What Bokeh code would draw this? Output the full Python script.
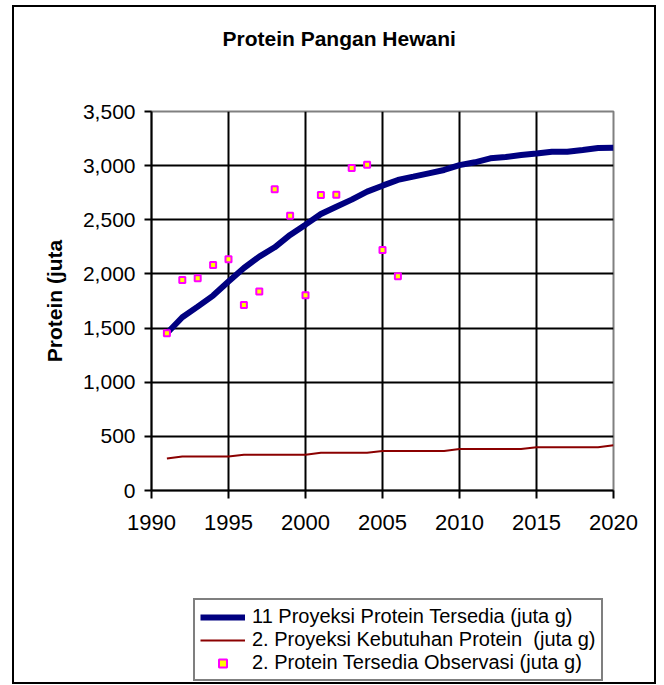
from bokeh.plotting import figure
from bokeh.layouts import column
from bokeh.models import (Range1d, FixedTicker, NumeralTickFormatter, Legend,
                          LegendItem, ColumnDataSource, Title)
from bokeh.embed import file_html
from bokeh.resources import INLINE

# ---- data ----
proj_years = list(range(1991, 2021))
proj_available = [1452, 1600, 1698, 1800, 1930, 2055, 2160, 2246, 2360, 2455,
                  2554, 2621, 2686, 2760, 2815, 2868, 2898, 2929, 2960, 3005,
                  3031, 3068, 3080, 3098, 3113, 3129, 3129, 3145, 3162, 3165]
proj_need = [295, 315, 315, 315, 315, 330, 330, 330, 330, 330,
             348, 348, 348, 348, 365, 365, 365, 365, 365, 383,
             383, 383, 383, 383, 400, 400, 400, 400, 400, 418]
obs_years = list(range(1991, 2007))
obs_available = [1452, 1945, 1960, 2083, 2135, 1714, 1837, 2781, 2538, 1803,
                 2729, 2732, 2978, 3009, 2222, 1978]

x_ticks = [1990, 1995, 2000, 2005, 2010, 2015, 2020]
y_ticks = [0, 500, 1000, 1500, 2000, 2500, 3000, 3500]

title_text = "Protein Pangan Hewani"
y_label = "Protein (juta"
names = ["11 Proyeksi Protein Tersedia (juta g)",
         "2. Proyeksi Kebutuhan Protein  (juta g)",
         "2. Protein Tersedia Observasi (juta g)"]

FONT = "Liberation Sans"

src_proj = ColumnDataSource(dict(x=proj_years, avail=proj_available, need=proj_need))
src_obs = ColumnDataSource(dict(x=obs_years, y=obs_available))

# ---------------- main chart ----------------
p = figure(width=644, height=538, output_backend="svg", toolbar_location=None,
           x_range=Range1d(1990, 2020), y_range=Range1d(0, 3500),
           min_border_left=137, min_border_right=41,
           min_border_top=104, min_border_bottom=55)
p.background_fill_color = "white"
p.border_fill_color = "white"
p.outline_line_color = "#808080"
p.outline_line_width = 2

# spacer between frame and title (closest to the frame)
p.add_layout(Title(text=" ", text_font_size="1px", standoff=59), "above")

p.title.text = title_text
p.title.align = "left"
p.title.offset = 71
p.title.standoff = 0
p.title.text_font = FONT
p.title.text_font_size = "21px"
p.title.text_font_style = "bold"
p.title.text_color = "black"

p.xgrid.ticker = FixedTicker(ticks=x_ticks[1:-1])
p.ygrid.ticker = FixedTicker(ticks=y_ticks[1:-1])
for g in (p.xgrid, p.ygrid):
    g.grid_line_color = "black"
    g.grid_line_width = 2

p.xaxis.ticker = FixedTicker(ticks=x_ticks)
p.yaxis.ticker = FixedTicker(ticks=y_ticks)
p.yaxis.formatter = NumeralTickFormatter(format="0,0")
for ax in (p.xaxis, p.yaxis):
    ax.axis_line_color = "black"
    ax.axis_line_width = 2
    ax.major_tick_line_color = "black"
    ax.major_tick_line_width = 2
    ax.major_tick_in = 0
    ax.minor_tick_line_color = None
    ax.major_label_text_font = FONT
    ax.major_label_text_color = "black"
p.xaxis.major_label_text_font_size = "22px"
p.yaxis.major_label_text_font_size = "21px"
p.xaxis.major_tick_out = 8
p.yaxis.major_tick_out = 7
p.xaxis.major_label_standoff = 16
p.yaxis.major_label_standoff = 9
p.yaxis.axis_label = y_label
p.yaxis.axis_label_text_font = FONT
p.yaxis.axis_label_text_font_size = "21px"
p.yaxis.axis_label_text_font_style = "bold"
p.yaxis.axis_label_text_color = "black"
p.yaxis.axis_label_standoff = 14

line_avail = dict(line_color="#000080", line_width=6)
line_need = dict(line_color="#8B0000", line_width=2)
mark_obs = dict(marker="square", size=6, fill_color="#FFFF00",
                line_color="#FF00FF", line_width=2)

p.line("x", "need", source=src_proj, **line_need)
p.line("x", "avail", source=src_proj, **line_avail)
p.scatter("x", "y", source=src_obs, **mark_obs)

# ---------------- legend strip ----------------
lg = figure(width=644, height=137, output_backend="svg", toolbar_location=None,
            x_range=Range1d(0, 1), y_range=Range1d(0, 1),
            x_axis_location=None, y_axis_location=None,
            min_border=0)
lg.grid.visible = False
lg.outline_line_color = None
lg.background_fill_color = "white"
lg.border_fill_color = "white"

rb_avail = lg.line("x", "avail", source=src_proj, visible=False, **line_avail)
rb_need = lg.line("x", "need", source=src_proj, visible=False, **line_need)
rb_obs = lg.scatter("x", "y", source=src_obs, visible=False, **mark_obs)

legend = Legend(items=[LegendItem(label=names[0], renderers=[rb_avail]),
                       LegendItem(label=names[1], renderers=[rb_need]),
                       LegendItem(label=names[2], renderers=[rb_obs])],
                location=(42, 1), orientation="vertical")
legend.label_text_font = FONT
legend.label_text_font_size = "20px"
legend.label_text_color = "black"
legend.label_height = 20
legend.glyph_height = 20
legend.glyph_width = 45
legend.label_standoff = 7
legend.spacing = 0
legend.padding = 5
legend.margin = 0
legend.border_line_color = "black"
legend.border_line_width = 2
legend.background_fill_color = "white"
legend.background_fill_alpha = 1.0
legend.inactive_fill_alpha = 0.0
lg.add_layout(legend, "center")

layout = column(p, lg, spacing=0)
layout.styles = {"border": "2px solid #000000", "margin-left": "12px",
                 "margin-top": "5px", "width": "644px"}

open("out.html", "w").write(file_html(layout, INLINE))
